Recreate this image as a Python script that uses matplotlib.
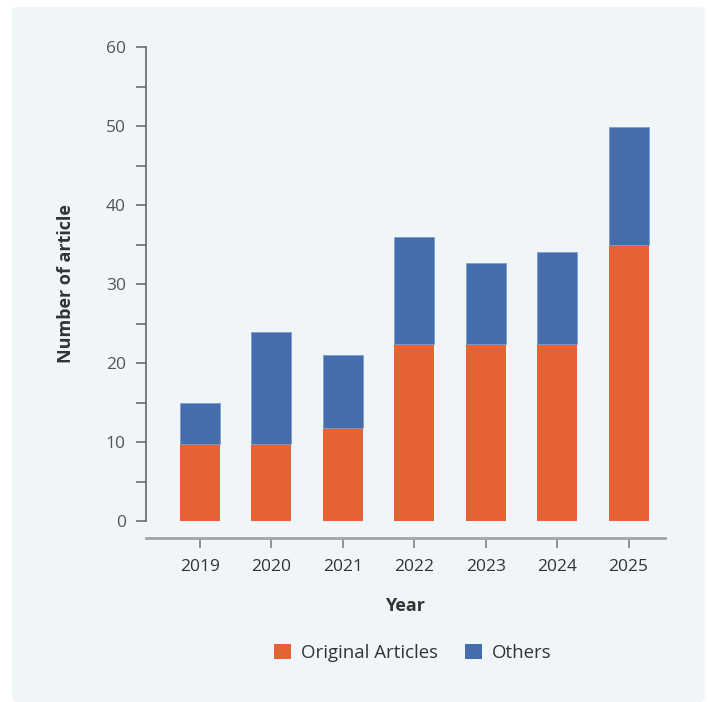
import matplotlib.pyplot as plt
import numpy as np
from matplotlib.patches import FancyBboxPatch, Patch

years = ["2019", "2020", "2021", "2022", "2023", "2024", "2025"]
original = [9.7, 9.7, 11.8, 22.4, 22.4, 22.4, 35.0]
totals = [14.9, 23.9, 21.0, 36.0, 32.7, 34.0, 49.9]
others = [t - o for t, o in zip(totals, original)]

orange = "#E66133"
blue = "#466DAB"
panel = "#F0F5F8"

plt.rcParams['font.family'] = ['Open Sans', 'DejaVu Sans']

fig = plt.figure(figsize=(7.09, 7.02), dpi=100)
fig.patch.set_facecolor("white")
W, H = 709, 702
# light rounded panel behind the chart
bg = FancyBboxPatch((12 / W, 0), (705 - 12) / W, (702 - 7) / H,
                    boxstyle="round,pad=0,rounding_size=0.008",
                    transform=fig.transFigure, facecolor=panel,
                    edgecolor="none", zorder=-10)
fig.patches.append(bg)

ax = fig.add_axes([146 / W, 1 - 521 / H, (665 - 146) / W, (521 - 47) / H])
ax.set_facecolor("none")
ax.set_zorder(1)

x = np.arange(len(years))
ax.bar(x, original, width=0.56, color=orange, zorder=2)
ax.bar(x, others, width=0.56, bottom=original, color=blue,
       edgecolor="#7f9fcf", linewidth=0.6, zorder=2)

ax.set_xlim(-0.756, 6.51)
ax.set_ylim(0, 60)
ax.set_yticks(range(0, 61, 10))
ax.set_yticks(range(5, 60, 10), minor=True)
ax.set_xticks(x)
ax.set_xticklabels(years)

for s in ["top", "right"]:
    ax.spines[s].set_visible(False)
ax.spines["left"].set_color("#666666")
ax.spines["left"].set_linewidth(1.2)
ax.spines["bottom"].set_color("#a0a4a8")
ax.spines["bottom"].set_linewidth(2)
ax.spines["bottom"].set_position(("outward", 12))

ax.tick_params(axis="y", which="both", length=7.5, width=1.3, color="#777777",
               labelsize=12.5, labelcolor="#555555", pad=7)
ax.tick_params(axis="x", length=7.5, width=1.3, color="#888888",
               labelsize=12.5, labelcolor="#333333", pad=8)

ax.set_xlabel("Year", fontsize=13, fontweight="bold", color="#333333", labelpad=16)
ax.set_ylabel("Number of article", fontsize=13, fontweight="bold", color="#333333", labelpad=22)

handles = [Patch(facecolor=orange, label="Original Articles"),
           Patch(facecolor=blue, label="Others")]
fig.legend(handles=handles, loc="center", bbox_to_anchor=(413 / W, 1 - 653 / H),
           ncol=2, frameon=False, fontsize=13.4, handlelength=0.9, handleheight=0.9,
           handletextpad=0.55, columnspacing=1.45, labelcolor="#333333")

fig.savefig("out.png", dpi=100, facecolor=fig.get_facecolor())
